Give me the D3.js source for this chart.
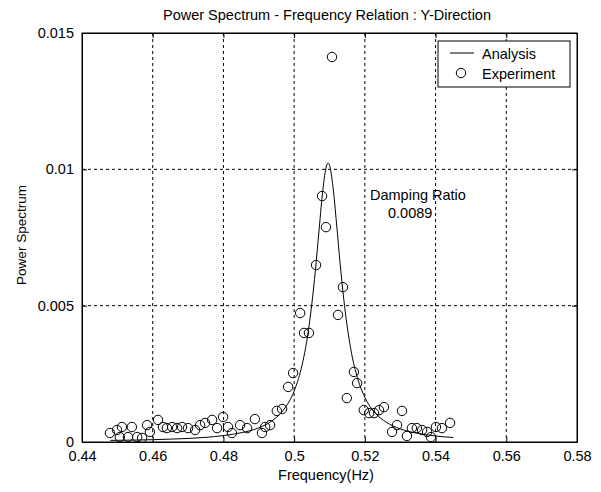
<!DOCTYPE html>
<html>
<head>
<meta charset="utf-8">
<script src="https://cdn.jsdelivr.net/npm/d3@7"></script>
<style>
  body { margin: 0; background: #fff; }
  svg { display: block; font-family: "Liberation Sans", Arial, sans-serif; }
  .axis text { font-size: 14.5px; fill: #000; }
  .axis path, .axis line { stroke: #000; }
  .grid line { stroke: #000; stroke-dasharray: 3,3; stroke-width: 1; }
</style>
</head>
<body>
<svg id="chart" width="601" height="492"></svg>
<script>
// tick values and labels
const freqTicks = [0.44, 0.46, 0.48, 0.5, 0.52, 0.54, 0.56, 0.58];
const freqLabels = ["0.44", "0.46", "0.48", "0.5", "0.52", "0.54", "0.56", "0.58"];
const powerTicks = [0, 0.005, 0.01, 0.015];
const powerLabels = ["0", "0.005", "0.01", "0.015"];

// Analysis curve
const analysisFreq = [0.448, 0.455, 0.46, 0.465, 0.47, 0.475, 0.48, 0.485, 0.49, 0.494, 0.497, 0.5,
  0.502, 0.504, 0.506, 0.507, 0.508, 0.509, 0.5096, 0.51, 0.511, 0.512, 0.513, 0.514, 0.516,
  0.518, 0.52, 0.523, 0.526, 0.53, 0.535, 0.54, 0.545];
const analysisPower = [0.00006, 0.00007, 0.000085, 0.000105, 0.00013, 0.00017, 0.000235, 0.00034,
  0.00052, 0.0008, 0.00118, 0.00187, 0.00269, 0.00406, 0.00628, 0.0077, 0.0091, 0.01005, 0.01023,
  0.01015, 0.00934, 0.008, 0.00655, 0.00528, 0.00342, 0.00231, 0.00164, 0.00105, 0.00073,
  0.00048, 0.00032, 0.00022, 0.000165];

// Experiment points
const expFreq = [0.4479, 0.4499, 0.4507, 0.4513, 0.453, 0.4541, 0.4556, 0.457, 0.4584, 0.4592,
  0.4615, 0.4629, 0.464, 0.4655, 0.4669, 0.4683, 0.47, 0.472, 0.4734, 0.4748, 0.4768, 0.4782,
  0.4799, 0.4813, 0.4824, 0.4847, 0.4867, 0.4889, 0.4909, 0.4918, 0.4932, 0.4951, 0.4966,
  0.4983, 0.4997, 0.5017, 0.5028, 0.5042, 0.5062, 0.5079, 0.509, 0.5107, 0.5124, 0.5138,
  0.5149, 0.5169, 0.5178, 0.5197, 0.5212, 0.5226, 0.524, 0.5254, 0.5277, 0.5291, 0.5305,
  0.5319, 0.5333, 0.5347, 0.5362, 0.5376, 0.5387, 0.5401, 0.5418, 0.5441];
const expPower = [0.00033, 0.00044, 0.00018, 0.00055, 0.00018, 0.00055, 0.00018, 0.00015, 0.00062,
  0.00037, 0.00081, 0.00055, 0.00051, 0.00055, 0.00051, 0.00055, 0.00051, 0.00044, 0.00062,
  0.0007, 0.00081, 0.00051, 0.00092, 0.00055, 0.00033, 0.00062, 0.00051, 0.00084, 0.00033,
  0.00055, 0.00062, 0.00114, 0.00121, 0.00202, 0.00253, 0.00473, 0.004, 0.004, 0.00649,
  0.00902, 0.00788, 0.01412, 0.00466, 0.00568, 0.00161, 0.00257, 0.00216, 0.00117, 0.00106,
  0.00106, 0.00117, 0.00128, 0.00037, 0.00062, 0.00114, 0.00022, 0.00051, 0.00051, 0.00044,
  0.00037, 0.00018, 0.00055, 0.00051, 0.0007];

const titleText = "Power Spectrum - Frequency Relation : Y-Direction";
const xLabelText = "Frequency(Hz)";
const yLabelText = "Power Spectrum";
const legendLabels = ["Analysis", "Experiment"];

const svg = d3.select("#chart");
const plot = { left: 82, right: 577, top: 33, bottom: 442 };

const x = d3.scaleLinear().domain([0.44, 0.58]).range([plot.left, plot.right]);
const y = d3.scaleLinear().domain([0, 0.015]).range([plot.bottom, plot.top]);

// gridlines
const grid = svg.append("g").attr("class", "grid");
grid.selectAll(".vg").data(freqTicks.slice(1, -1)).enter().append("line")
    .attr("x1", d => x(d)).attr("x2", d => x(d))
    .attr("y1", plot.top).attr("y2", plot.bottom);
grid.selectAll(".hg").data(powerTicks.slice(1, -1)).enter().append("line")
    .attr("x1", plot.left).attr("x2", plot.right)
    .attr("y1", d => y(d)).attr("y2", d => y(d));

// axes (ticks point inward like matlab)
svg.append("g").attr("class", "axis")
    .attr("transform", `translate(0,${plot.bottom})`)
    .call(d3.axisBottom(x).tickValues(freqTicks).tickFormat((d, i) => freqLabels[i])
        .tickSizeInner(-5).tickSizeOuter(0).tickPadding(9));
svg.append("g").attr("class", "axis")
    .attr("transform", `translate(0,${plot.top})`)
    .call(d3.axisTop(x).tickValues(freqTicks).tickFormat("").tickSizeInner(-5).tickSizeOuter(0));
svg.append("g").attr("class", "axis")
    .attr("transform", `translate(${plot.left},0)`)
    .call(d3.axisLeft(y).tickValues(powerTicks).tickFormat((d, i) => powerLabels[i])
        .tickSizeInner(-5).tickSizeOuter(0).tickPadding(8));
svg.append("g").attr("class", "axis")
    .attr("transform", `translate(${plot.right},0)`)
    .call(d3.axisRight(y).tickValues(powerTicks).tickFormat("").tickSizeInner(-5).tickSizeOuter(0));

svg.append("rect")
    .attr("x", plot.left).attr("y", plot.top)
    .attr("width", plot.right - plot.left).attr("height", plot.bottom - plot.top)
    .attr("fill", "none").attr("stroke", "#000");

// analysis curve
const curve = analysisFreq.map((f, i) => [f, analysisPower[i]]);
svg.append("path")
    .datum(curve)
    .attr("fill", "none").attr("stroke", "#000").attr("stroke-width", 1)
    .attr("d", d3.line().x(d => x(d[0])).y(d => y(d[1])).curve(d3.curveMonotoneX));

// experiment circles
const pts = expFreq.map((f, i) => ({ f: f, p: expPower[i] }));
svg.append("g").selectAll("circle")
    .data(pts).enter().append("circle")
    .attr("cx", d => x(d.f)).attr("cy", d => y(d.p))
    .attr("r", 4.7)
    .attr("fill", "none").attr("stroke", "#000").attr("stroke-width", 1);

// damping ratio note
svg.append("text").attr("x", 370).attr("y", 200).attr("font-size", 14.5).text("Damping Ratio");
svg.append("text").attr("x", 388).attr("y", 218).attr("font-size", 14.5).text("0.0089");

// legend
const lg = svg.append("g");
lg.append("rect").attr("x", 438).attr("y", 41).attr("width", 132).attr("height", 46)
    .attr("fill", "#fff").attr("stroke", "#000");
lg.append("line").attr("x1", 450).attr("x2", 474).attr("y1", 53).attr("y2", 53).attr("stroke", "#000");
lg.append("circle").attr("cx", 461).attr("cy", 73).attr("r", 4.7)
    .attr("fill", "none").attr("stroke", "#000");
lg.selectAll("text.lab").data(legendLabels).enter().append("text")
    .attr("class", "lab")
    .attr("x", 482).attr("y", (d, i) => 58.5 + i * 20)
    .attr("font-size", 14.5)
    .text(d => d);

// titles
svg.append("text").attr("x", 327).attr("y", 20).attr("text-anchor", "middle")
    .attr("font-size", 14.5).text(titleText);
svg.append("text").attr("x", 326).attr("y", 480).attr("text-anchor", "middle")
    .attr("font-size", 14.5).text(xLabelText);
svg.append("text").attr("transform", "translate(26,235) rotate(-90)")
    .attr("text-anchor", "middle").attr("font-size", 13.5).text(yLabelText);
</script>
</body>
</html>
